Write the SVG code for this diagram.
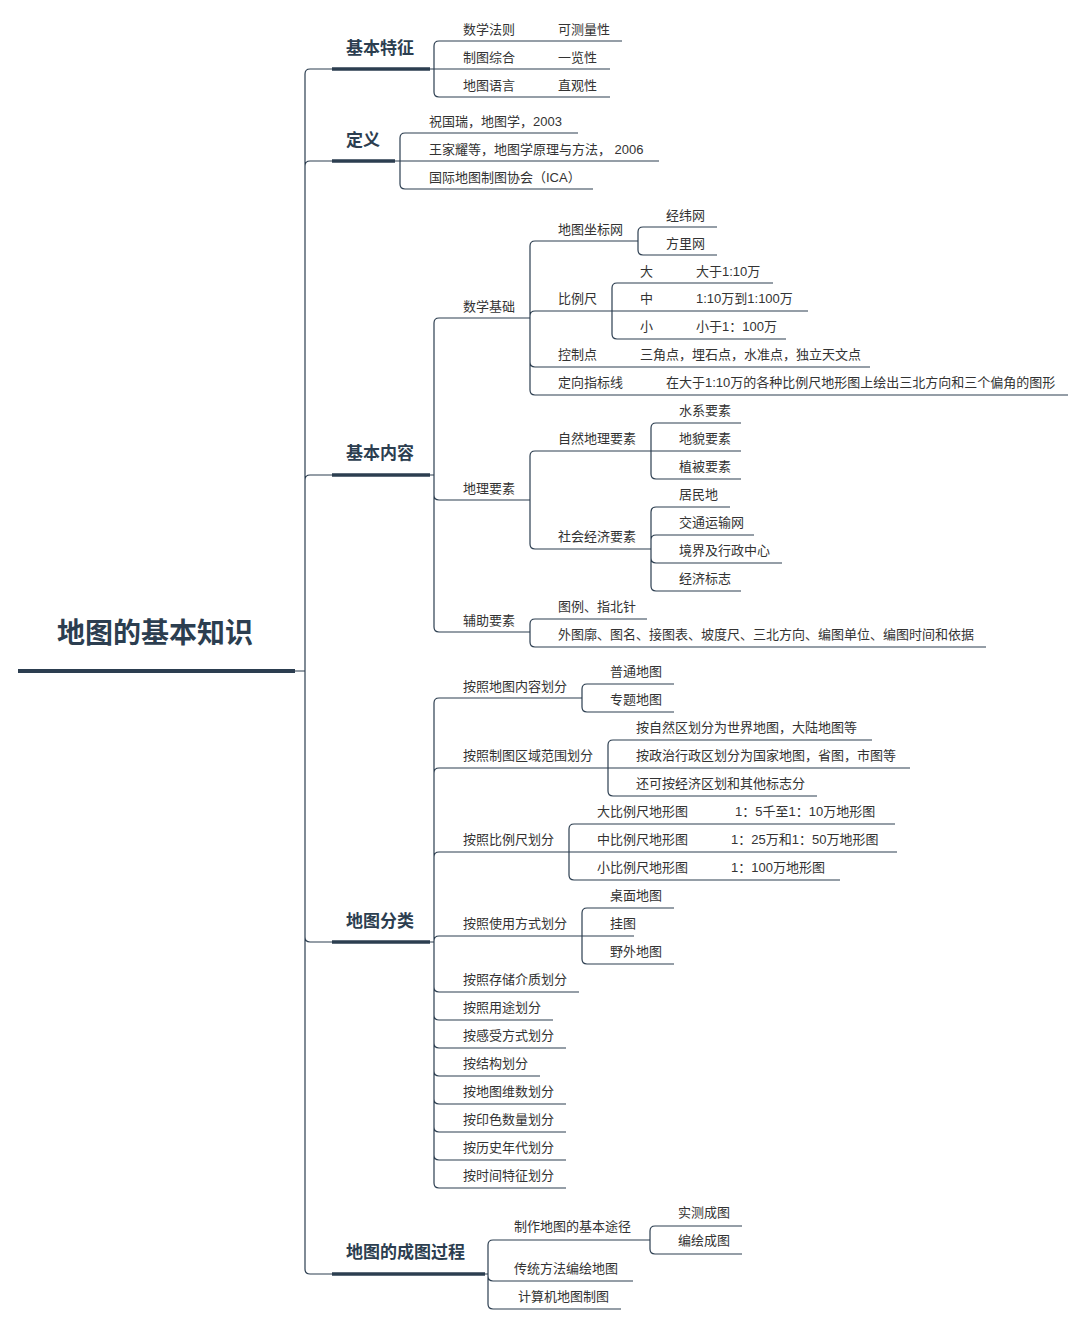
<svg xmlns="http://www.w3.org/2000/svg" width="1085" height="1325" viewBox="0 0 1085 1325">
<style>
text{font-family:"Liberation Sans","Noto Sans CJK SC",sans-serif;fill:#333;font-size:13px}
.l1{font-size:17px;font-weight:bold;fill:#2c3e50}
.root{font-size:28px;font-weight:bold;fill:#2c3e50}
.c path{fill:none;stroke:#2c3e50;stroke-width:1.2}
.c .t{stroke-width:4}
</style>
<rect width="1085" height="1325" fill="#fff"/>
<g class="c" id="connectors">
<path class="t" d="M18 671H295"/>
<path class="t" d="M332 69H430M332 161H395M332 475H430M332 942H430M332 1274H485" style="stroke-width:3.5"/>
<path d="M295 671H305V74Q305 69 310 69H332M305 671V166Q305 161 310 161H332M305 671V480Q305 475 310 475H332M305 671V937Q305 942 310 942H332M305 671V1269Q305 1274 310 1274H332"/>
<path d="M430 69H434V46Q434 41 439 41H622M434 69H610M434 69V92Q434 97 439 97H610"/>
<path d="M395 161H400V138Q400 133 405 133H578M400 161H659M400 161V184Q400 189 405 189H593"/>
<path d="M430 475H434V323Q434 318 439 318H530M434 475V495Q434 500 439 500H530M434 475V627Q434 632 439 632H530"/>
<path d="M530 318V246Q530 241 535 241H638M530 318V316Q530 311 535 311H612M530 318V362Q530 367 535 367H870M530 318V390Q530 395 535 395H1068"/>
<path d="M638 241V232Q638 227 643 227H717M638 241V250Q638 255 643 255H717"/>
<path d="M612 311V288Q612 283 617 283H773M612 311H808M612 311V334Q612 339 617 339H786"/>
<path d="M530 500V456Q530 451 535 451H651M530 500V544Q530 549 535 549H651"/>
<path d="M651 451V428Q651 423 656 423H741M651 451H741M651 451V474Q651 479 656 479H741"/>
<path d="M651 549V512Q651 507 656 507H730M651 549V540Q651 535 656 535H754M651 549V558Q651 563 656 563H782M651 549V586Q651 591 656 591H741"/>
<path d="M530 632V624Q530 619 535 619H647M530 632V642Q530 647 535 647H986"/>
<path d="M430 942H434V703Q434 698 439 698H582M434 942V773Q434 768 439 768H608M434 942V857Q434 852 439 852H569M434 942V941Q434 936 439 936H582M434 942V987Q434 992 439 992H579M434 942V1015Q434 1020 439 1020H553M434 942V1043Q434 1048 439 1048H566M434 942V1071Q434 1076 439 1076H540M434 942V1099Q434 1104 439 1104H566M434 942V1127Q434 1132 439 1132H566M434 942V1155Q434 1160 439 1160H566M434 942V1183Q434 1188 439 1188H566"/>
<path d="M582 698V689Q582 684 587 684H674M582 698V707Q582 712 587 712H674"/>
<path d="M608 768V745Q608 740 613 740H872M608 768H910M608 768V791Q608 796 613 796H817"/>
<path d="M569 852V829Q569 824 574 824H895M569 852H897M569 852V875Q569 880 574 880H840"/>
<path d="M582 936V913Q582 908 587 908H674M582 936H634M582 936V959Q582 964 587 964H674"/>
<path d="M485 1274H488V1245Q488 1240 493 1240H650M488 1274V1276Q488 1281 493 1281H633M488 1274V1304Q488 1309 493 1309H621"/>
<path d="M650 1240V1231Q650 1226 655 1226H742M650 1240V1249Q650 1254 655 1254H742"/>
</g>
<g id="root"><text class="root" x="155" y="643" text-anchor="middle">地图的基本知识</text></g>
<g id="n1"><text class="l1" x="346" y="54">基本特征</text>
<text x="463" y="34">数学法则</text><text x="558" y="34">可测量性</text>
<text x="463" y="62">制图综合</text><text x="558" y="62">一览性</text>
<text x="463" y="90">地图语言</text><text x="558" y="90">直观性</text></g>
<g id="n2"><text class="l1" x="346" y="146">定义</text>
<text x="429" y="126">祝国瑞，地图学，2003</text>
<text x="429" y="154">王家耀等，地图学原理与方法， 2006</text>
<text x="429" y="182">国际地图制图协会（ICA）</text></g>
<g id="n3"><text class="l1" x="346" y="459">基本内容</text>
<text x="463" y="311">数学基础</text>
<text x="558" y="234">地图坐标网</text><text x="666" y="220">经纬网</text><text x="666" y="248">方里网</text>
<text x="558" y="303">比例尺</text>
<text x="640" y="276">大</text><text x="696" y="276">大于1:10万</text>
<text x="640" y="303">中</text><text x="696" y="303">1:10万到1:100万</text>
<text x="640" y="331">小</text><text x="696" y="331">小于1：100万</text>
<text x="558" y="359">控制点</text><text x="640" y="359">三角点，埋石点，水准点，独立天文点</text>
<text x="558" y="387">定向指标线</text><text x="666" y="387">在大于1:10万的各种比例尺地形图上绘出三北方向和三个偏角的图形</text>
<text x="463" y="493">地理要素</text>
<text x="558" y="443">自然地理要素</text>
<text x="679" y="415">水系要素</text><text x="679" y="443">地貌要素</text><text x="679" y="471">植被要素</text>
<text x="558" y="541">社会经济要素</text>
<text x="679" y="499">居民地</text><text x="679" y="527">交通运输网</text><text x="679" y="555">境界及行政中心</text><text x="679" y="583">经济标志</text>
<text x="463" y="625">辅助要素</text>
<text x="558" y="611">图例、指北针</text>
<text x="558" y="639">外图廓、图名、接图表、坡度尺、三北方向、编图单位、编图时间和依据</text></g>
<g id="n4"><text class="l1" x="346" y="927">地图分类</text>
<text x="463" y="691">按照地图内容划分</text><text x="610" y="676">普通地图</text><text x="610" y="704">专题地图</text>
<text x="463" y="760">按照制图区域范围划分</text>
<text x="636" y="732">按自然区划分为世界地图，大陆地图等</text>
<text x="636" y="760">按政治行政区划分为国家地图，省图，市图等</text>
<text x="636" y="788">还可按经济区划和其他标志分</text>
<text x="463" y="844">按照比例尺划分</text>
<text x="597" y="816">大比例尺地形图</text><text x="735" y="816">1：5千至1：10万地形图</text>
<text x="597" y="844">中比例尺地形图</text><text x="731" y="844">1：25万和1：50万地形图</text>
<text x="597" y="872">小比例尺地形图</text><text x="731" y="872">1：100万地形图</text>
<text x="463" y="928">按照使用方式划分</text>
<text x="610" y="900">桌面地图</text><text x="610" y="928">挂图</text><text x="610" y="956">野外地图</text>
<text x="463" y="984">按照存储介质划分</text>
<text x="463" y="1012">按照用途划分</text>
<text x="463" y="1040">按感受方式划分</text>
<text x="463" y="1068">按结构划分</text>
<text x="463" y="1096">按地图维数划分</text>
<text x="463" y="1124">按印色数量划分</text>
<text x="463" y="1152">按历史年代划分</text>
<text x="463" y="1180">按时间特征划分</text></g>
<g id="n5"><text class="l1" x="346" y="1258">地图的成图过程</text>
<text x="514" y="1231">制作地图的基本途径</text>
<text x="678" y="1217">实测成图</text><text x="678" y="1245">编绘成图</text>
<text x="514" y="1273">传统方法编绘地图</text>
<text x="518" y="1301">计算机地图制图</text></g>
</svg>
